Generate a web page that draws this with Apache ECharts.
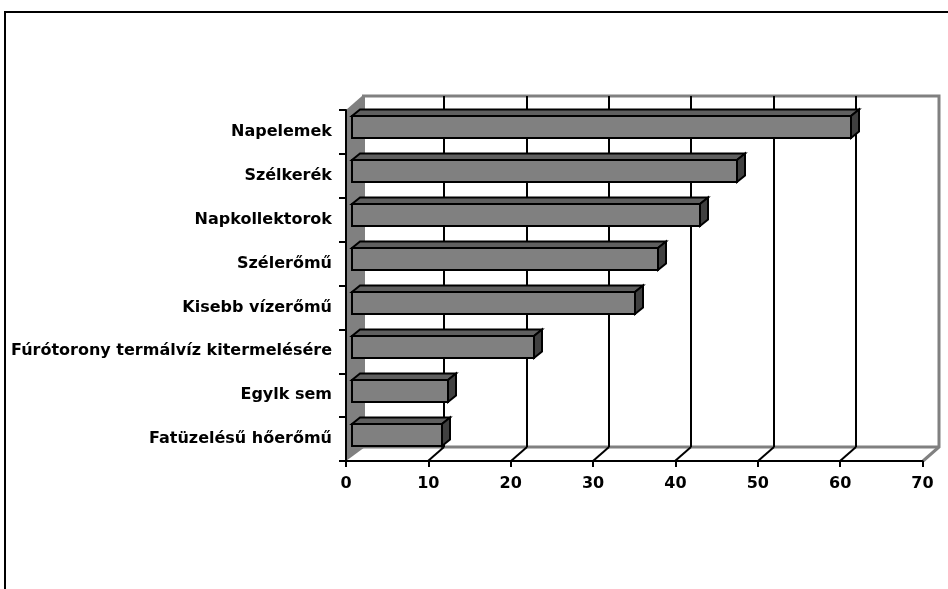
<!DOCTYPE html>
<html>
<head>
<meta charset="utf-8">
<title>Megújuló energiaforrások</title>
<script src="https://cdn.jsdelivr.net/npm/echarts@6/dist/echarts.min.js"></script>
<style>
  html, body { margin: 0; padding: 0; background: #fff; }
  #chart { width: 948px; height: 589px; }
</style>
</head>
<body>
<div id="chart"></div>
<script>
// Categories, top to bottom
const categories = [
  'Napelemek',
  'Szélkerék',
  'Napkollektorok',
  'Szélerőmű',
  'Kisebb vízerőmű',
  'Fúrótorony termálvíz kitermelésére',
  'Egylk sem',
  'Fatüzelésű hőerőmű'
];
// Bar values
const shares = [60.6, 46.7, 42.2, 37.2, 34.4, 22.1, 11.7, 10.9];
// Value axis ticks
const xTicks = [0, 10, 20, 30, 40, 50, 60, 70];

// Oblique projection of the chart box (depth direction)
const DEPTH_X = 16, DEPTH_Y = -14;
const GRAY = '#808080';
const FONT = 'DejaVu Sans';

const chart = echarts.init(document.getElementById('chart'), null, { renderer: 'canvas' });

// Side wall, back wall outline and floor edges of the 3D box
function renderWalls(params, api) {
  const cs = params.coordSys;
  const x0 = Math.round(api.coord([xTicks[0], 0])[0]);
  const x1 = Math.round(api.coord([xTicks[xTicks.length - 1], 0])[0]);
  const top = Math.round(cs.y), bottom = Math.round(cs.y + cs.height);
  const children = [];
  // left side wall
  children.push({
    type: 'polygon',
    shape: { points: [
      [x0, top], [x0 + DEPTH_X, top + DEPTH_Y], [x0 + DEPTH_X + 3, top + DEPTH_Y],
      [x0 + DEPTH_X + 3, bottom + DEPTH_Y], [x0, bottom]
    ] },
    style: { fill: GRAY }
  });
  // back wall outline and floor edges
  children.push({
    type: 'polyline',
    shape: { points: [
      [x0 + DEPTH_X, top + DEPTH_Y], [x1 + DEPTH_X, top + DEPTH_Y],
      [x1 + DEPTH_X, bottom + DEPTH_Y], [x1, bottom]
    ] },
    style: { fill: null, stroke: GRAY, lineWidth: 3 }
  });
  children.push({
    type: 'line',
    shape: { x1: x0 + DEPTH_X, y1: bottom + DEPTH_Y, x2: x1 + DEPTH_X, y2: bottom + DEPTH_Y },
    style: { stroke: GRAY, lineWidth: 3 }
  });
  return { type: 'group', children };
}

// Gridlines on the back wall plus their diagonal run across the floor
function renderGrid(params, api) {
  const cs = params.coordSys;
  const x = Math.round(api.coord([api.value(0), 0])[0]);
  const top = Math.round(cs.y), bottom = Math.round(cs.y + cs.height);
  return {
    type: 'group',
    children: [
      {
        type: 'line',
        shape: { x1: x + DEPTH_X, y1: top + DEPTH_Y, x2: x + DEPTH_X, y2: bottom + DEPTH_Y },
        style: { stroke: '#000', lineWidth: 2 }
      },
      {
        type: 'line',
        shape: { x1: x, y1: bottom, x2: x + DEPTH_X, y2: bottom + DEPTH_Y },
        style: { stroke: '#000', lineWidth: 2 }
      }
    ]
  };
}

// 3D bar: front face, top face and right side face
function renderBar(params, api) {
  const v = api.value(0), c = api.value(1);
  const p0 = api.coord([0, c]);
  const p1 = api.coord([v, c]);
  const band = api.size([0, 1])[1];
  const h = Math.round(band * 0.24);
  const fx = 6, fy = -4.5;      // front face offset into depth
  const bx = 8, by = -6.5;      // bar depth
  const xl = Math.round(p0[0] + fx), xr = Math.round(p1[0] + fx);
  const yt = Math.round(p0[1] + fy - h), yb = yt + 2 * h;
  const stroke = { stroke: '#000', lineWidth: 2, lineJoin: 'miter' };
  return {
    type: 'group',
    children: [
      {
        type: 'polygon',
        shape: { points: [[xl, yt], [xr, yt], [xr + bx, yt + by], [xl + bx, yt + by]] },
        style: Object.assign({ fill: '#5f5f5f' }, stroke)
      },
      {
        type: 'polygon',
        shape: { points: [[xr, yt], [xr + bx, yt + by], [xr + bx, yb + by], [xr, yb]] },
        style: Object.assign({ fill: '#404040' }, stroke)
      },
      {
        type: 'rect',
        shape: { x: xl, y: yt, width: xr - xl, height: yb - yt },
        style: Object.assign({ fill: GRAY }, stroke)
      }
    ]
  };
}

const option = {
  animation: false,
  backgroundColor: '#fff',
  grid: { left: 346, top: 110, width: 576.5, height: 351, containLabel: false },
  xAxis: {
    type: 'value',
    min: xTicks[0],
    max: xTicks[xTicks.length - 1],
    interval: xTicks[1] - xTicks[0],
    z: 10,
    axisLine: { show: true, lineStyle: { color: '#000', width: 2 } },
    axisTick: { show: true, length: 6, lineStyle: { color: '#000', width: 2 } },
    splitLine: { show: false },
    axisLabel: { color: '#000', fontFamily: FONT, fontWeight: 'bold', fontSize: 16, margin: 15 }
  },
  yAxis: {
    type: 'category',
    data: categories,
    inverse: true,
    boundaryGap: true,
    z: 10,
    axisLine: { show: true, lineStyle: { color: '#000', width: 2 } },
    axisTick: { show: true, length: 7, lineStyle: { color: '#000', width: 2 } },
    splitLine: { show: false },
    axisLabel: { color: '#000', fontFamily: FONT, fontWeight: 'bold', fontSize: 16, margin: 14 }
  },
  series: [
    {
      type: 'custom',
      name: 'walls',
      z: 1,
      silent: true,
      renderItem: renderWalls,
      data: [[0, 0]]
    },
    {
      type: 'custom',
      name: 'grid',
      z: 2,
      silent: true,
      renderItem: renderGrid,
      data: xTicks.slice(1, -1).map(v => [v, 0])
    },
    {
      type: 'custom',
      name: 'shares',
      z: 3,
      renderItem: renderBar,
      encode: { x: 0, y: 1 },
      data: shares.map((v, i) => [v, i])
    }
  ],
  graphic: [
    {
      type: 'rect',
      z: 100,
      silent: true,
      shape: { x: 5, y: 12, width: 1000, height: 1000 },
      style: { fill: null, stroke: '#000', lineWidth: 2 }
    }
  ]
};

chart.setOption(option);
</script>
</body>
</html>
